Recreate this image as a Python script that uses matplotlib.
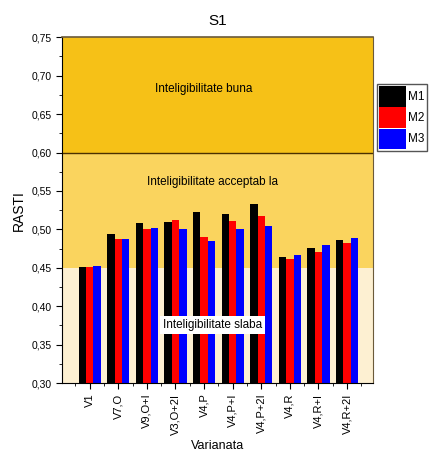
import matplotlib
matplotlib.use("Agg")
import matplotlib.pyplot as plt
import numpy as np
from matplotlib.ticker import MultipleLocator, FuncFormatter

plt.rcParams['font.family'] = ['Liberation Sans', 'DejaVu Sans']

categories = ["V1", "V7,O", "V9,O+I", "V3,O+2I", "V4,P", "V4,P+I",
              "V4,P+2I", "V4,R", "V4,R+I", "V4,R+2I"]
m1 = [0.451, 0.494, 0.508, 0.509, 0.522, 0.520, 0.533, 0.464, 0.476, 0.486]
m2 = [0.451, 0.488, 0.500, 0.512, 0.490, 0.511, 0.518, 0.462, 0.471, 0.482]
m3 = [0.453, 0.487, 0.502, 0.500, 0.485, 0.500, 0.505, 0.467, 0.480, 0.489]
series = [("M1", m1, "#000000"), ("M2", m2, "#ff0000"), ("M3", m3, "#0000ff")]

zones = [(0.30, 0.45, "#fdf0d2"), (0.45, 0.60, "#fad45e"), (0.60, 0.75, "#f6c117")]

fig = plt.figure(figsize=(4.3, 4.65), dpi=100)
ax = fig.add_axes([0.144, 0.176, 0.723, 0.744])

for lo, hi, col in zones:
    ax.axhspan(lo, hi, color=col, zorder=0, lw=0)
ax.axhline(0.60, color="#4a3000", lw=1.0, zorder=1)

x = np.arange(1, len(categories) + 1)
w = 0.26
for i, (name, vals, col) in enumerate(series):
    ax.bar(x + (i - 1) * w, np.array(vals) - 0.30, width=w, bottom=0.30,
           color=col, label=name, zorder=2)

ax.text(5.0, 0.683, "Inteligibilitate buna", ha="center", va="center", fontsize=8.5)
ax.text(5.3, 0.562, "Inteligibilitate acceptab la", ha="center", va="center", fontsize=8.5)
ax.text(5.3, 0.376, "Inteligibilitate slaba", ha="center", va="center", fontsize=8.5,
        bbox=dict(facecolor="white", edgecolor="none", pad=2), zorder=3)

ax.set_xlim(0.03, 10.9)
ax.set_ylim(0.30, 0.75)
ax.set_xticks(x)
ax.set_xticklabels(categories, rotation=90, fontsize=8)
ax.xaxis.set_minor_locator(MultipleLocator(0.5))
ax.yaxis.set_major_locator(MultipleLocator(0.05))
ax.yaxis.set_minor_locator(MultipleLocator(0.025))
ax.yaxis.set_major_formatter(FuncFormatter(lambda v, p: f"{v:.2f}".replace(".", ",")))
ax.tick_params(axis="y", labelsize=7.5, direction="out", length=4)
ax.tick_params(axis="x", direction="out", length=4)
ax.tick_params(which="minor", direction="out", length=2)

for side in ("top", "right"):
    ax.spines[side].set_color("#6b5a3a")
ax.spines["top"].set_linewidth(1.2)

ax.set_title("S1", fontsize=11, pad=9)
ax.set_ylabel("RASTI", fontsize=10)
ax.set_xlabel("Varianata", fontsize=9, labelpad=4)

leg = ax.legend(loc="upper left", bbox_to_anchor=(1.012, 0.865), fontsize=8.5,
                handlelength=2.3, handleheight=2.3, handletextpad=0.2,
                labelspacing=0.05, borderpad=0.2, borderaxespad=0,
                fancybox=False, framealpha=1, edgecolor="#555555")

fig.savefig("out.png", dpi=100)
